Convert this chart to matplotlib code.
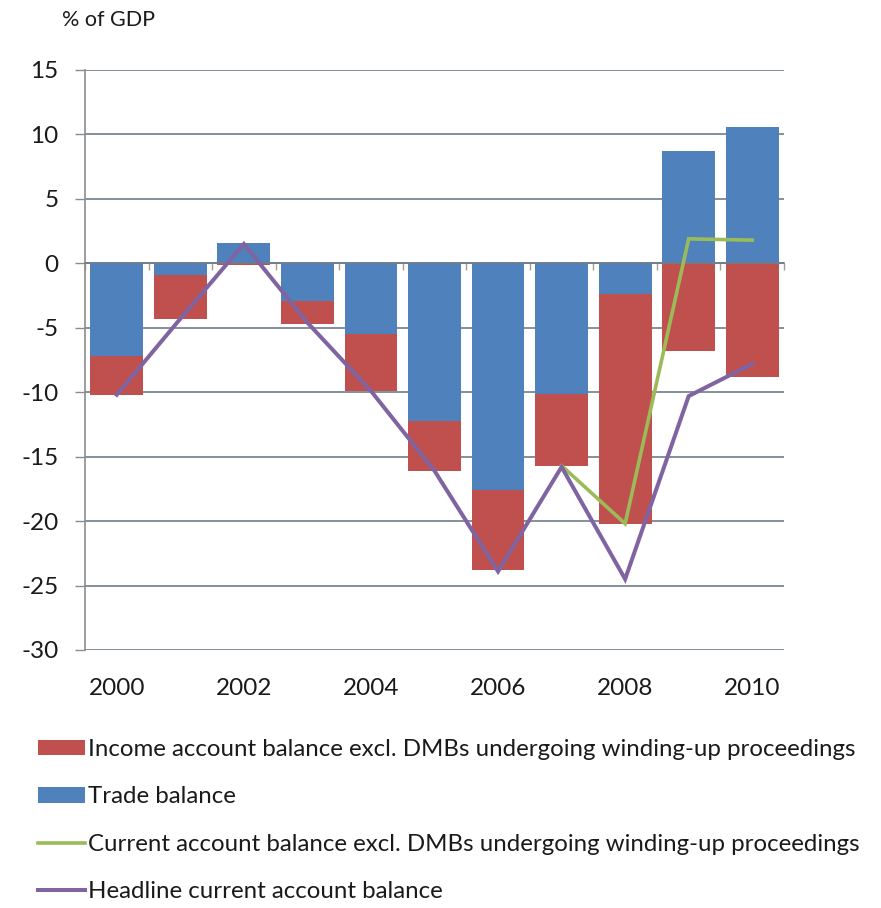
import matplotlib
matplotlib.use("Agg")
import matplotlib.pyplot as plt
import numpy as np
from matplotlib.patches import Patch
from matplotlib.lines import Line2D

plt.rcParams['font.family'] = ['Lato', 'DejaVu Sans']
plt.rcParams['axes.unicode_minus'] = False

years = [2000, 2001, 2002, 2003, 2004, 2005, 2006, 2007, 2008, 2009, 2010]
trade_balance = [-7.2, -0.9, 1.6, -2.9, -5.5, -12.2, -17.6, -10.1, -2.4, 8.7, 10.6]
income_balance = [-3.0, -3.4, -0.1, -1.8, -4.4, -3.9, -6.2, -5.6, -17.8, -6.8, -8.8]
current_excl = [np.nan, np.nan, np.nan, np.nan, np.nan, np.nan, np.nan, -15.7, -20.2, 1.9, 1.8]
headline = [-10.2, -4.3, 1.5, -4.6, -9.9, -16.1, -23.9, -15.8, -24.5, -10.3, -7.8]
year_labels = ["2000", "2002", "2004", "2006", "2008", "2010"]

c_red = '#C0504D'
c_blue = '#4F81BD'
c_green = '#9BBB59'
c_purple = '#8064A2'
grid_c = '#6f7d8c'

W, H = 881, 908
fig = plt.figure(figsize=(W / 100, H / 100), dpi=100)
ax = fig.add_axes([85 / W, 1 - 650 / H, 699 / W, 580 / H])

x = np.arange(len(years))
trade = np.array(trade_balance)
income = np.array(income_balance)
# income stacks below zero (or below a negative trade bar)
income_base = np.minimum(trade, 0)
bw = 0.83
ax.bar(x, trade, width=bw, color=c_blue, zorder=2)
ax.bar(x, income, width=bw, bottom=income_base, color=c_red, zorder=2)
ax.plot(x, current_excl, color=c_green, lw=2.6, zorder=3, solid_joinstyle='miter')
ax.plot(x, headline, color=c_purple, lw=2.9, zorder=4, solid_joinstyle='miter')

ax.set_xlim(-0.5, len(years) - 0.5)
ax.set_ylim(-30, 15)
ax.set_yticks(np.arange(-30, 16, 5))
ax.yaxis.grid(True, color=grid_c, lw=1.2, zorder=0)
ax.set_axisbelow(True)
ax.tick_params(axis='y', direction='out', length=7, width=1, color='#8c8c8c',
               pad=12, labelsize=17.5, labelcolor='#1a1a1a')

for s in ['top', 'right']:
    ax.spines[s].set_visible(False)
ax.spines['left'].set_color('#8c8c8c')
ax.spines['left'].set_linewidth(1.2)
ax.spines['bottom'].set_position(('data', 0))
ax.spines['bottom'].set_color(grid_c)
ax.spines['bottom'].set_linewidth(1.2)
ax.set_xticks(np.arange(-0.5, len(years), 1.0))
ax.tick_params(axis='x', direction='out', length=5, width=1, color='#a89c8c',
               labelbottom=False)

sec = ax.secondary_xaxis('bottom')
sec.set_xticks([years.index(int(l)) for l in year_labels], year_labels)
sec.tick_params(length=0, pad=20, labelsize=17.5, labelcolor='#1a1a1a')
sec.spines['bottom'].set_visible(False)

fig.text(62 / W, 1 - 20 / H, '% of GDP', fontsize=15.5, va='center', ha='left',
         color='#1a1a1a')

handles = [
    Patch(facecolor=c_red, edgecolor='none'),
    Patch(facecolor=c_blue, edgecolor='none'),
    Line2D([], [], color=c_green, lw=2.6),
    Line2D([], [], color=c_purple, lw=2.9),
]
labels = [
    'Income account balance excl. DMBs undergoing winding-up proceedings',
    'Trade balance',
    'Current account balance excl. DMBs undergoing winding-up proceedings',
    'Headline current account balance',
]
fig.legend(handles, labels, loc='upper left', bbox_to_anchor=(38 / W, 1 - 739 / H),
           frameon=False, fontsize=17.3, handlelength=1.97, handleheight=0.6,
           handletextpad=0.1, labelspacing=1.1, borderpad=0, borderaxespad=0,
           labelcolor='#1a1a1a')

fig.savefig('out.png', dpi=100)
